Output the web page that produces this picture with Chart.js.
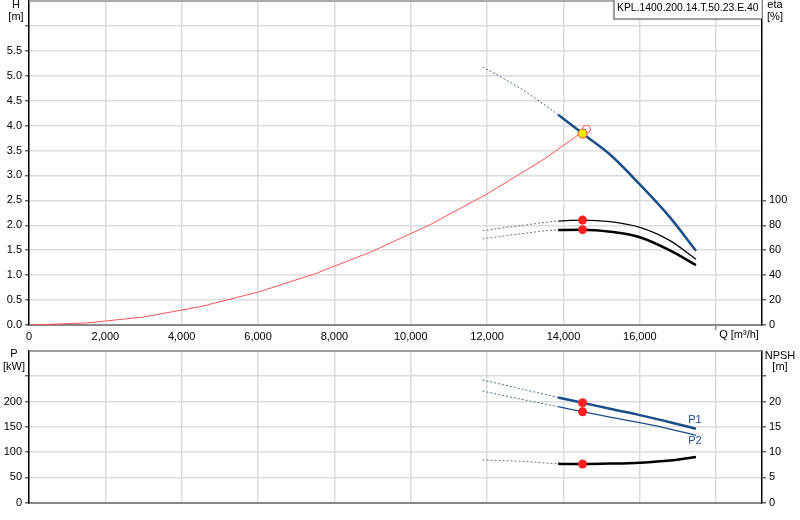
<!DOCTYPE html>
<html><head><meta charset="utf-8">
<script src="https://cdn.jsdelivr.net/npm/chart.js@4.4.1/dist/chart.umd.min.js"></script>
<style>
html,body{margin:0;padding:0;background:#fff;width:800px;height:520px;overflow:hidden}
#c1{position:absolute;left:0;top:0}
#c2{position:absolute;left:0;top:340px}
</style></head><body>
<canvas id="c1" width="800" height="345"></canvas>
<canvas id="c2" width="800" height="180"></canvas>
<script>
// ---------------- data ----------------
const pumpTitle = 'KPL.1400.200.14.T.50.23.E.40';
const qTickValues = [0, 2000, 4000, 6000, 8000, 10000, 12000, 14000, 16000, 18000];
const qTickLabels = ['0','2,000','4,000','6,000','8,000','10,000','12,000','14,000','16,000',''];
const hTickLabels = ['0.0','0.5','1.0','1.5','2.0','2.5','3.0','3.5','4.0','4.5','5.0','5.5',''];
const etaTickLabels = ['0','20','40','60','80','100'];
const pTickLabels = ['0','50','100','150','200',''];
const npshTickLabels = ['0','5','10','15','20',''];

const qCurve = [11880, 12860, 13860, 14500, 15220, 16000, 16790, 17470];
const hCurve = [5.18, 4.75, 4.22, 3.84, 3.42, 2.82, 2.16, 1.49];
const eta1   = [75.7, 79.7, 83.4, 84.2, 82.9, 78.3, 67.7, 52.8];
const eta2   = [69.1, 73.1, 76.3, 76.5, 74.9, 70.4, 59.8, 48.0];
const p1     = [242.6, 225.5, 208.0, 197.6, 185.5, 173.0, 159.0, 146.1];
const p2     = [220.8, 205.0, 189.7, 179.8, 169.0, 158.0, 145.5, 133.0];
const npsh   = [8.42, 8.16, 7.68, 7.62, 7.70, 7.88, 8.30, 9.00];
const dashUntil = 2; // segments up to this index are the dotted extension

const qSys = [0, 1500, 3000, 4500, 6000, 7500, 9000, 10500, 12000, 13500, 14600];
const hSys = [0, 0.04, 0.16, 0.37, 0.66, 1.03, 1.48, 2.01, 2.63, 3.33, 3.93];

const qOp = 14500, hOp = 3.84, eta1Op = 84.2, eta2Op = 76.5, p1Op = 197.6, p2Op = 179.8, npshOp = 7.62;

// ---------------- helpers ----------------
const FONT = 'Arial, "Liberation Sans", sans-serif';
const BLUE = '#1a4d89';
const GRID = '#dcdcdc';
const Q_MAX = 19200;
const xy = (xs, ys) => xs.map((x, i) => ({x, y: ys[i]}));

function curve(xs, ys, axis, color, width, dashColor, order) {
  return {
    data: xy(xs, ys), yAxisID: axis, borderColor: color, borderWidth: width,
    pointRadius: 0, fill: false, cubicInterpolationMode: 'monotone', order,
    segment: {
      borderDash: c => c.p1DataIndex <= dashUntil ? [2, 2] : undefined,
      borderColor: c => c.p1DataIndex <= dashUntil ? dashColor : undefined,
      borderWidth: c => c.p1DataIndex <= dashUntil ? 1 : undefined
    }
  };
}
function dot(x, y, axis, opts) {
  return Object.assign({data: [{x, y}], yAxisID: axis, showLine: false, pointRadius: 4.5,
    pointBackgroundColor: '#ff2020', pointBorderWidth: 0, order: 0}, opts || {});
}
function xScale(labels, showLabels) {
  return {
    type: 'linear', min: 0, max: Q_MAX, bounds: 'data',
    ticks: {display: showLabels, autoSkip: false, maxRotation: 0,
      padding: 0, color: '#000', font: {family: FONT, size: 11},
      callback: (v, i) => labels[i] ?? ''},
    grid: {color: GRID, lineWidth: 1.5, drawTicks: showLabels, tickLength: 5,
      tickColor: c => (c.index === 9 ? '#888' : 'rgba(0,0,0,0)')},
    border: {color: '#888', width: 2},
    afterBuildTicks: s => { s.ticks = qTickValues.map(v => ({value: v})); },
    afterFit: s => { s.height = showLabels ? 20 : 17.5; s.paddingLeft = 0; s.paddingRight = 0; }
  };
}
function yScale(pos, min, max, step, labels, tickMaxVal, showGrid) {
  return {
    type: 'linear', position: pos, min, max,
    ticks: {stepSize: step, includeBounds: false, autoSkip: false, padding: 3, color: '#000',
      font: {family: FONT, size: 11}, callback: (v, i) => labels[i] ?? ''},
    grid: {color: GRID, lineWidth: 1.5, drawOnChartArea: showGrid, tickLength: 4,
      tickColor: c => (c.tick && c.tick.value <= tickMaxVal + 1e-9 ? '#666' : 'rgba(0,0,0,0)')},
    border: {color: '#000', width: 1.5},
    afterFit: s => { s.width = pos === 'left' ? 29 : 38; s.paddingTop = 0; s.paddingBottom = 0; }
  };
}
function text(ctx, s, x, y, align, color, size) {
  ctx.save();
  ctx.font = (size || 11) + 'px ' + FONT;
  ctx.fillStyle = color || '#000';
  ctx.textAlign = align || 'center';
  ctx.textBaseline = 'middle';
  ctx.fillText(s, x, y);
  ctx.restore();
}

// ---------------- top chart ----------------
const topDeco = {
  id: 'topDeco',
  afterDraw(chart) {
    const {ctx, chartArea: a} = chart;
    ctx.save();
    ctx.strokeStyle = '#999'; ctx.lineWidth = 1.5;
    ctx.beginPath(); ctx.moveTo(a.left, a.top); ctx.lineTo(a.right, a.top); ctx.stroke();
    // legend box
    ctx.fillStyle = '#fff';
    ctx.shadowColor = 'rgba(0,0,0,0.35)'; ctx.shadowOffsetX = -1; ctx.shadowOffsetY = 1; ctx.shadowBlur = 1;
    ctx.fillRect(614, 0, a.right - 614, 19);
    ctx.shadowColor = 'transparent';
    ctx.strokeStyle = '#999'; ctx.lineWidth = 1;
    ctx.strokeRect(614.5, -1, a.right - 614.5, 19.5);
    ctx.restore();
    text(ctx, pumpTitle, 617, 8.5, 'left', '#000', 10.4);
    text(ctx, 'H', 16, 5);
    text(ctx, '[m]', 16, 17);
    text(ctx, 'eta', 775, 5);
    text(ctx, '[%]', 775, 17);
    text(ctx, 'Q [m\u00B3/h]', 739, 335);
  }
};

new Chart(document.getElementById('c1'), {
  type: 'line',
  data: {datasets: [
    dot(qOp, hOp, 'y', {pointRadius: 4.5, pointBackgroundColor: '#ffee00', pointBorderColor: '#ff4040', pointBorderWidth: 1}),
    dot(qSys[qSys.length - 1], hSys[hSys.length - 1], 'y', {pointRadius: 4, pointBackgroundColor: 'rgba(0,0,0,0)', pointBorderColor: '#ff6060', pointBorderWidth: 1, order: 1}),
    dot(qOp, eta1Op, 'y2'),
    dot(qOp, eta2Op, 'y2'),
    curve(qCurve, hCurve, 'y', BLUE, 2.5, '#4d6a8c', 2),
    curve(qCurve, eta1, 'y2', '#000', 1.3, '#777', 2),
    curve(qCurve, eta2, 'y2', '#000', 2.5, '#777', 2),
    {data: xy(qSys, hSys), yAxisID: 'y', borderColor: '#ff5555', borderWidth: 1, pointRadius: 0,
      tension: 0, order: 3}
  ]},
  options: {
    responsive: false, animation: false, devicePixelRatio: 1,
    layout: {autoPadding: false, padding: {top: 1, left: 0, right: 0, bottom: 0}},
    plugins: {legend: {display: false}, tooltip: {enabled: false}},
    scales: {
      x: xScale(qTickLabels, true),
      y: yScale('left', 0, 6.5, 0.5, hTickLabels, 6.0, true),
      y2: yScale('right', 0, 260, 20, etaTickLabels, 100, false)
    }
  },
  plugins: [topDeco]
});

// ---------------- bottom chart ----------------
const botDeco = {
  id: 'botDeco',
  afterDraw(chart) {
    const {ctx, chartArea: a, scales} = chart;
    ctx.save();
    ctx.strokeStyle = '#888'; ctx.lineWidth = 1.5;
    ctx.beginPath(); ctx.moveTo(a.left, a.top); ctx.lineTo(a.right, a.top); ctx.stroke();
    ctx.restore();
    text(ctx, 'P', 14, 14);
    text(ctx, '[kW]', 14, 27);
    text(ctx, 'NPSH', 780, 15.5);
    text(ctx, '[m]', 780, 27);
    const n = qCurve.length - 1;
    const lx = scales.x.getPixelForValue(qCurve[n]) - 1;
    text(ctx, 'P1', lx, scales.yP.getPixelForValue(p1[n]) - 9, 'center', BLUE);
    text(ctx, 'P2', lx, scales.yP.getPixelForValue(p2[n]) + 5.5, 'center', BLUE);
  }
};

new Chart(document.getElementById('c2'), {
  type: 'line',
  data: {datasets: [
    dot(qOp, p1Op, 'yP'),
    dot(qOp, p2Op, 'yP'),
    dot(qOp, npshOp, 'yN'),
    curve(qCurve, p1, 'yP', BLUE, 2.5, '#4d6a8c', 2),
    curve(qCurve, p2, 'yP', BLUE, 1.3, '#4d6a8c', 2),
    curve(qCurve, npsh, 'yN', '#000', 2.5, '#777', 2)
  ]},
  options: {
    responsive: false, animation: false, devicePixelRatio: 1,
    layout: {autoPadding: false, padding: {top: 11, left: 0, right: 0, bottom: 0}},
    plugins: {legend: {display: false}, tooltip: {enabled: false}},
    scales: {
      x: xScale(qTickLabels, false),
      yP: yScale('left', 0, 300, 50, pTickLabels, 250, true),
      yN: yScale('right', 0, 30, 5, npshTickLabels, 25, false)
    }
  },
  plugins: [botDeco]
});
</script>
</body></html>
